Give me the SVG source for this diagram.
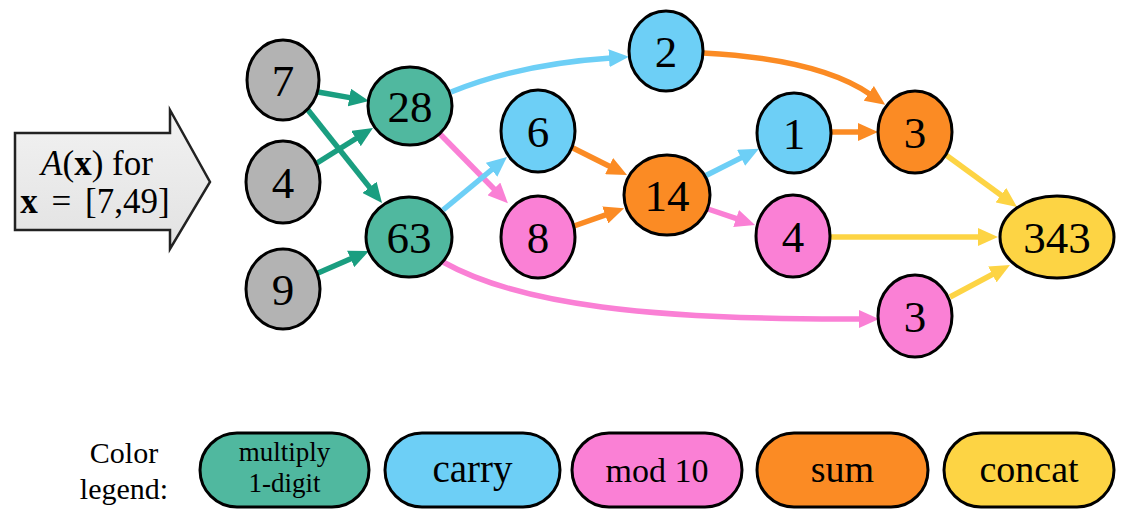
<svg xmlns="http://www.w3.org/2000/svg" width="1130" height="519" viewBox="0 0 1130 519">
<style>
.n{stroke:#000;stroke-width:3}
.t{font-family:"Liberation Serif","Times New Roman",serif;fill:#000;text-anchor:middle}
.nt{font-size:45px}
.e{fill:none;stroke-width:5.5}
.gray{fill:#b3b3b3}.green{fill:#50b89f}.blue{fill:#6dcff6}.pink{fill:#fa80d5}.orange{fill:#fb8b24}.yellow{fill:#fdd444}
</style>
<defs>
<marker id="mg" markerUnits="userSpaceOnUse" markerWidth="20" markerHeight="18" refX="2" refY="9" orient="auto"><path d="M0,0 L20,9 L0,18 z" fill="#1a9e80"/></marker>
<marker id="mb" markerUnits="userSpaceOnUse" markerWidth="20" markerHeight="18" refX="2" refY="9" orient="auto"><path d="M0,0 L20,9 L0,18 z" fill="#6dcff6"/></marker>
<marker id="mp" markerUnits="userSpaceOnUse" markerWidth="20" markerHeight="18" refX="2" refY="9" orient="auto"><path d="M0,0 L20,9 L0,18 z" fill="#fa80d5"/></marker>
<marker id="mo" markerUnits="userSpaceOnUse" markerWidth="20" markerHeight="18" refX="2" refY="9" orient="auto"><path d="M0,0 L20,9 L0,18 z" fill="#fb8b24"/></marker>
<marker id="my" markerUnits="userSpaceOnUse" markerWidth="20" markerHeight="18" refX="2" refY="9" orient="auto"><path d="M0,0 L20,9 L0,18 z" fill="#fdd444"/></marker>
<linearGradient id="ag" x1="0" y1="0" x2="0" y2="1"><stop offset="0" stop-color="#f2f2f2"/><stop offset="1" stop-color="#e2e2e2"/></linearGradient>
</defs>

<g id="input-arrow">
<path d="M15,133 L170,133 L170,110 L210,182 L170,249 L170,230 L15,230 z" fill="url(#ag)" stroke="#222" stroke-width="2.5" stroke-linejoin="miter"/>
<text class="t" x="97" y="175" font-size="35"><tspan font-style="italic">A</tspan>(<tspan font-weight="bold">x</tspan>) for</text>
<text class="t" x="95" y="213" font-size="35" word-spacing="5"><tspan font-weight="bold">x</tspan> = [7,49]</text>
</g>

<g id="connectors">
<path class="e" stroke="#1a9e80" marker-end="url(#mg)" d="M318,92 L351.3,97.9"/>
<path class="e" stroke="#1a9e80" marker-end="url(#mg)" d="M308,110 L370.8,188.9"/>
<path class="e" stroke="#1a9e80" marker-end="url(#mg)" d="M317,163 L357.7,137.5"/>
<path class="e" stroke="#1a9e80" marker-end="url(#mg)" d="M318,273 L352.5,258.1"/>
<path class="e" stroke="#6dcff6" marker-end="url(#mb)" d="M451,92 C495,74 550,62 611,58"/>
<path class="e" stroke="#fa80d5" marker-end="url(#mp)" d="M440,134 L495.3,190.3"/>
<path class="e" stroke="#6dcff6" marker-end="url(#mb)" d="M443,210 L493.1,168.5"/>
<path class="e" stroke="#fb8b24" marker-end="url(#mo)" d="M573,148 L610.9,167"/>
<path class="e" stroke="#fb8b24" marker-end="url(#mo)" d="M574,226 L607.1,214.3"/>
<path class="e" stroke="#6dcff6" marker-end="url(#mb)" d="M705,176 L742.9,156.9"/>
<path class="e" stroke="#fa80d5" marker-end="url(#mp)" d="M708,209 L738,219.2"/>
<path class="e" stroke="#fb8b24" marker-end="url(#mo)" d="M703,53 C780,57 835,70 870.4,94.5"/>
<path class="e" stroke="#fb8b24" marker-end="url(#mo)" d="M832,132 L860,132"/>
<path class="e" stroke="#fdd444" marker-end="url(#my)" d="M946,155 L1002.5,196.3"/>
<path class="e" stroke="#fdd444" marker-end="url(#my)" d="M830,237 L980,237"/>
<path class="e" stroke="#fdd444" marker-end="url(#my)" d="M950,297 L994.1,273.5"/>
<path class="e" stroke="#fa80d5" marker-end="url(#mp)" d="M443,262 C520,305 650,320 861,319"/>
</g>

<g id="n7"><ellipse class="n gray" cx="283" cy="80" rx="36" ry="40"/><text class="t nt" x="283" y="96">7</text></g>
<g id="n4"><ellipse class="n gray" cx="283" cy="182" rx="37" ry="41"/><text class="t nt" x="283" y="198">4</text></g>
<g id="n9"><ellipse class="n gray" cx="283" cy="289" rx="37" ry="40"/><text class="t nt" x="283" y="305">9</text></g>
<g id="n28"><ellipse class="n green" cx="410" cy="106" rx="42" ry="39"/><text class="t nt" x="410" y="122">28</text></g>
<g id="n63"><ellipse class="n green" cx="409" cy="237" rx="43" ry="40"/><text class="t nt" x="409" y="253">63</text></g>
<g id="n2"><ellipse class="n blue" cx="666" cy="51" rx="37" ry="40"/><text class="t nt" x="666" y="67">2</text></g>
<g id="n6"><ellipse class="n blue" cx="538" cy="131" rx="37" ry="41"/><text class="t nt" x="538" y="147">6</text></g>
<g id="n8"><ellipse class="n pink" cx="538" cy="237" rx="37" ry="41"/><text class="t nt" x="538" y="253">8</text></g>
<g id="n14"><ellipse class="n orange" cx="667" cy="195" rx="43" ry="40"/><text class="t nt" x="667" y="211">14</text></g>
<g id="n1"><ellipse class="n blue" cx="794" cy="133" rx="37" ry="40"/><text class="t nt" x="794" y="149">1</text></g>
<g id="n3a"><ellipse class="n orange" cx="915" cy="132" rx="37" ry="41"/><text class="t nt" x="915" y="148">3</text></g>
<g id="n4b"><ellipse class="n pink" cx="793" cy="236" rx="37" ry="41"/><text class="t nt" x="793" y="252">4</text></g>
<g id="n3b"><ellipse class="n pink" cx="915" cy="316" rx="37" ry="41"/><text class="t nt" x="915" y="332">3</text></g>
<g id="n343"><ellipse class="n yellow" cx="1057" cy="237" rx="57" ry="41"/><text class="t nt" x="1057" y="253">343</text></g>

<g id="legend">
<text class="t" x="124" y="463" font-size="30">Color</text>
<text class="t" x="124" y="499" font-size="30">legend:</text>
<g id="leg-multiply"><rect class="n green" x="200" y="433" width="169" height="74" rx="37"/><text class="t" x="284.5" y="461" font-size="27">multiply</text><text class="t" x="284.5" y="492" font-size="27">1-digit</text></g>
<g id="leg-carry"><rect class="n blue" x="385" y="433" width="175" height="74" rx="37"/><text class="t" x="472.5" y="482" font-size="39">carry</text></g>
<g id="leg-mod"><rect class="n pink" x="572" y="433" width="170" height="74" rx="37"/><text class="t" x="657" y="482" font-size="34">mod 10</text></g>
<g id="leg-sum"><rect class="n orange" x="757" y="433" width="171" height="74" rx="37"/><text class="t" x="842.5" y="482" font-size="38">sum</text></g>
<g id="leg-concat"><rect class="n yellow" x="944" y="433" width="170" height="74" rx="37"/><text class="t" x="1029" y="482" font-size="38">concat</text></g>
</g>
</svg>
